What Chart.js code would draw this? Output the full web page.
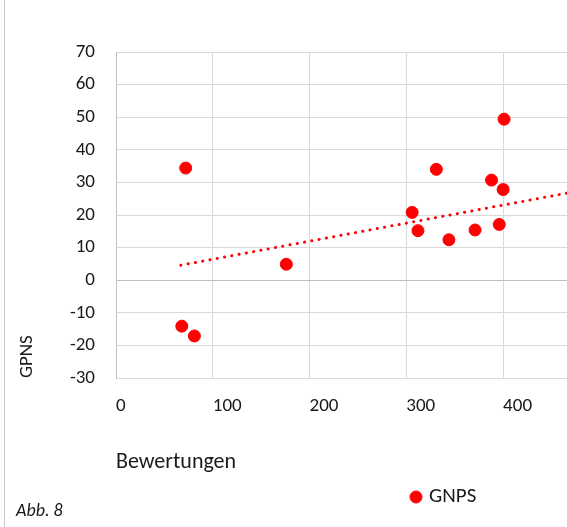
<!DOCTYPE html>
<html>
<head>
<meta charset="utf-8">
<script src="https://cdn.jsdelivr.net/npm/chart.js@4/dist/chart.umd.min.js"></script>
<style>
  html, body { margin: 0; padding: 0; background: #fff; }
  #wrap { position: relative; width: 567px; height: 527px; }
  #frame { position: absolute; left: 4px; top: 0; width: 1px; height: 527px; background: #c8c8c8; }
  canvas { position: absolute; left: 0; top: 0; }
</style>
</head>
<body>
<div id="wrap">
  <div id="frame"></div>
  <canvas id="chart" width="567" height="527"></canvas>
</div>
<script>
// Werte
const bewertungen = [72, 68, 81, 176, 306, 312, 331, 344, 371, 388, 396, 400, 401];
const gnps = [34.4, -14.1, -17.1, 4.9, 20.8, 15.2, 34.0, 12.4, 15.4, 30.7, 17.1, 27.8, 49.4];
// lineare Trendlinie (Anfang / Ende)
const trendX = [67, 466];
const trendY = [4.6, 26.7];
const xTicks = [0, 100, 200, 300, 400];
const yRange = [-30, 70];

const FONT = 'Carlito, Calibri, Lato, sans-serif';
const TEXT = '#1a1a1a';

const points = bewertungen.map((x, i) => ({ x: x, y: gnps[i] }));
const trend = trendX.map((x, i) => ({ x: x, y: trendY[i] }));

// Legende rechts unten platzieren wie im Original
const legendPlacer = {
    id: 'legendPlacer',
    beforeDraw(chart) {
        const lg = chart.legend;
        if (!lg) return;
        lg.left = 403.5;
        lg.right = 560;
        lg.top = 476.5;
        lg.bottom = 516;
    }
};

const ctx = document.getElementById('chart').getContext('2d');
new Chart(ctx, {
    type: 'scatter',
    data: {
        datasets: [
            {
                label: 'GNPS',
                data: points,
                backgroundColor: '#ff0000',
                borderColor: '#ff0000',
                pointRadius: 6,
                pointHoverRadius: 6,
                order: 1
            },
            {
                label: 'Trend',
                data: trend,
                type: 'line',
                showLine: true,
                borderColor: '#ff0000',
                borderWidth: 3,
                borderDash: [0.1, 7.3],
                borderCapStyle: 'round',
                pointRadius: 0,
                fill: false,
                order: 2
            }
        ]
    },
    options: {
        responsive: false,
        animation: false,
        layout: { autoPadding: false, padding: { top: 52, left: 16, right: 0, bottom: 5.2 } },
        scales: {
            x: {
                type: 'linear',
                min: 0,
                max: 466,
                afterBuildTicks: (scale) => {
                    scale.ticks = xTicks.map(v => ({ value: v }));
                },
                afterFit: (scale) => {
                    scale.height = 97.2;
                    scale.paddingLeft = 0;
                    scale.paddingRight = 0;
                },
                grid: { color: '#d9d9d9', drawTicks: false },
                border: { color: '#d9d9d9' },
                ticks: { font: { family: FONT, size: 19 }, color: TEXT, padding: 17, maxRotation: 0, align: 'start' },
                title: {
                    display: true,
                    text: 'Bewertungen',
                    align: 'start',
                    color: TEXT,
                    font: { family: FONT, size: 22 },
                    padding: { top: 0, bottom: 0 }
                }
            },
            y: {
                min: yRange[0],
                max: yRange[1],
                afterFit: (scale) => { scale.width = 100; },
                grid: {
                    color: (c) => (c.tick && c.tick.value === 0 ? '#bfbfbf' : '#d9d9d9'),
                    drawTicks: false
                },
                border: { color: '#bfbfbf' },
                ticks: { stepSize: 10, font: { family: FONT, size: 19 }, color: TEXT, padding: 21 },
                title: {
                    display: true,
                    text: 'GPNS',
                    align: 'start',
                    color: TEXT,
                    font: { family: FONT, size: 19 },
                    padding: { top: 0, bottom: 0 }
                }
            }
        },
        plugins: {
            legend: {
                position: 'bottom',
                align: 'start',
                maxHeight: 25,
                labels: {
                    usePointStyle: true,
                    pointStyle: 'circle',
                    boxWidth: 5,
                    boxHeight: 8.5,
                    padding: 10,
                    color: TEXT,
                    font: { family: FONT, size: 21 },
                    filter: (item) => item.text === 'GNPS'
                }
            },
            title: {
                display: true,
                text: 'Abb. 8',
                position: 'bottom',
                align: 'start',
                color: TEXT,
                font: { family: FONT, size: 18, style: 'italic', weight: 'normal' },
                padding: { top: 0, bottom: 0 }
            },
            tooltip: { enabled: false }
        }
    },
    plugins: [legendPlacer]
});
</script>
</body>
</html>
